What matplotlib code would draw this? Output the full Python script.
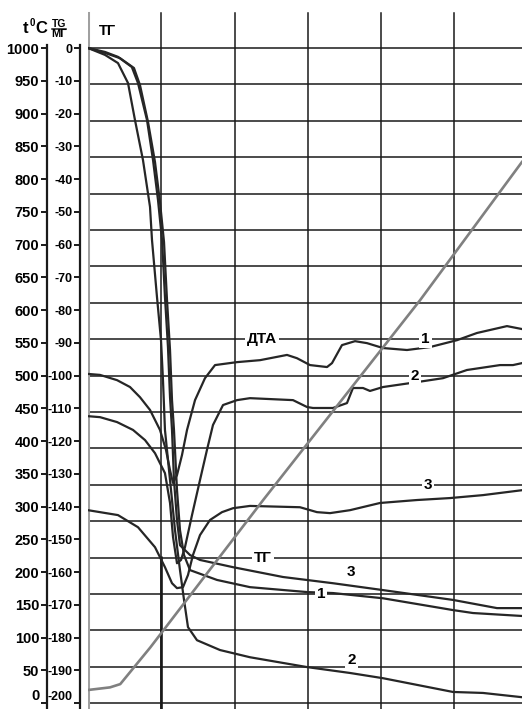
import numpy as np
import matplotlib.pyplot as plt

plt.rcParams['font.family'] = ['Liberation Sans', 'DejaVu Sans']
plt.rcParams['axes.unicode_minus'] = False

# Время, мин (по 10 на клетку)
# ТГ, мг
tg1_x = [0, 2.32, 4.37, 6.27, 7.09, 8.19, 9.14, 9.82, 10.37, 10.78, 11.19, 11.46, 11.73, 12.14,
         12.55, 13.10, 13.92, 17.60, 22.10, 29.88, 33.42, 40.25, 49.80, 52.52, 59.21]
tg1_y = [0, -1.5, -3.1, -6.1, -11.3, -22.6, -34.8, -47.0, -59.2, -77.0, -92.2, -107.5, -116.6, -134.9,
         -147.2, -154.8, -159.4, -162.4, -164.6, -166.1, -166.4, -168.0, -171.6, -172.5, -173.4]

tg2_x = [0, 2.32, 4.09, 5.46, 6.41, 7.50, 8.46, 8.73, 9.41, 9.96, 10.23, 10.50, 11.19, 11.87, 12.55,
         13.10, 13.64, 14.87, 18.01, 22.10, 29.88, 35.74, 40.25, 49.80, 53.89, 59.21]
tg2_y = [0, -2.1, -4.6, -10.7, -22.0, -34.2, -48.5, -58.6, -76.0, -89.2, -101.4, -116.6, -131.9, -147.2,
         -159.4, -168.5, -176.8, -180.8, -183.8, -186.0, -189.0, -190.8, -192.4, -196.6, -196.9, -198.2]

tg3_x = [0, 2.32, 4.09, 5.98, 6.82, 8.05, 8.87, 9.55, 10.10, 10.50, 10.91, 11.19, 11.46, 11.73, 12.14,
         12.55, 13.92, 15.29, 19.78, 26.60, 33.42, 40.25, 49.80, 55.80, 59.21]
tg3_y = [0, -1.2, -2.7, -5.8, -10.7, -22.0, -34.2, -46.4, -58.6, -76.0, -91.3, -106.6, -116.6, -131.9,
         -144.1, -151.8, -154.8, -156.3, -158.5, -161.5, -163.4, -165.5, -168.5, -171.0, -171.0]

# ДТА, усл. ед.
dta1_x = [0, 1.64, 3.96, 5.73, 7.09, 8.46, 9.82, 10.64, 11.19, 11.60, 12.14, 12.82, 13.51, 14.60, 15.96,
          17.33, 20.33, 23.47, 27.15, 28.51, 30.29, 32.61, 33.29, 34.65, 36.43, 38.06, 40.25, 43.52,
          46.66, 50.34, 53.07, 57.16, 59.21]
dta1_y = [-99.5, -99.8, -101.4, -103.5, -106.6, -110.5, -116.6, -122.7, -128.9, -132.8, -130.4, -124.3,
          -116.6, -107.5, -100.8, -96.8, -95.9, -95.3, -93.7, -94.7, -96.8, -97.4, -96.2, -90.7, -89.5,
          -90.1, -91.6, -92.2, -91.3, -89.2, -87.0, -84.9, -85.8]

dta2_x = [0, 1.64, 3.96, 6.14, 7.78, 9.14, 10.50, 11.19, 11.60, 12.14, 12.69, 13.23, 14.19, 15.28, 16.23,
          17.05, 18.42, 20.33, 22.10, 27.97, 29.88, 30.70, 33.42, 35.33, 36.15, 37.52, 38.47, 40.25,
          44.88, 48.43, 51.70, 56.21, 57.98, 59.21]
dta2_y = [-112.4, -112.7, -114.2, -116.6, -119.7, -123.7, -129.8, -138.9, -149.3, -157.3, -156.3, -152.4,
          -142.6, -131.9, -122.7, -115.1, -109.0, -107.5, -106.9, -107.5, -109.6, -109.9, -109.9, -108.4,
          -103.8, -103.8, -104.7, -103.5, -102.0, -100.8, -98.3, -96.8, -96.8, -96.2]

dta3_x = [0, 4.09, 6.82, 9.14, 10.50, 11.46, 12.14, 12.96, 13.64, 14.32, 15.28, 16.64, 18.28, 19.78,
          22.10, 28.92, 31.24, 33.02, 35.74, 39.84, 44.88, 49.39, 53.89, 59.21]
dta3_y = [-141.1, -142.6, -146.3, -152.4, -158.5, -163.4, -164.9, -164.6, -160.9, -154.8, -148.7, -144.1,
          -141.7, -140.5, -139.8, -140.2, -141.7, -142.0, -141.1, -138.9, -138.0, -137.4, -136.5, -135.0]

# Температура, °C
temp_x = [0, 3.0, 4.4, 8.5, 23.9, 45.3, 59.2]
temp_c = [20, 24, 29, 85, 310, 615, 826]

tg_ticks = list(range(0, -201, -10))
t_ticks = list(range(0, 1001, 50))

W, H = 522, 709
tg_lim = (-201.8, 14.66)
t_lim = (1000 + 5 * tg_lim[0], 1000 + 5 * tg_lim[1])
grid_top = (H - 13) / H

fig = plt.figure(figsize=(W / 100, H / 100), dpi=100)
ax = fig.add_axes([88 / W, 0, (W - 88) / W, 1])
ax.set_xlim(0, 59.21)
ax.set_ylim(*tg_lim)
for s in ax.spines.values():
    s.set_visible(False)
ax.set_xticks([])
ax.set_yticks([])

# сетка
for k in range(19):
    ax.axhline(-k * 200 / 18, color='#1a1a1a', lw=1.1, zorder=1)
for v in [10, 20, 30, 40, 50]:
    ax.axvline(v, ymax=grid_top, color='#1a1a1a', lw=1.1, zorder=1)
ax.vlines(10, tg_lim[0], -155, color='#1a1a1a', lw=1.9, zorder=1)
ax.axvline(0, ymax=grid_top, color='#a0a0a0', lw=2.2, zorder=1)

line_kw = dict(color='#262626', lw=1.6, zorder=3)
for xs, ys in [(tg1_x, tg1_y), (tg2_x, tg2_y), (tg3_x, tg3_y),
               (dta1_x, dta1_y), (dta2_x, dta2_y), (dta3_x, dta3_y)]:
    ax.plot(xs, ys, **line_kw)

ax_t = ax.twinx()
ax_t.set_ylim(*t_lim)
ax_t.axis('off')
ax_t.plot(temp_x, temp_c, color='#808080', lw=1.9, zorder=4)

# подписи кривых
box = dict(facecolor='white', edgecolor='none', pad=1.5)
lbl_kw = dict(fontsize=11, fontweight='bold', ha='center', va='center', bbox=box, zorder=6)
ax.text(23.7, -88.89, 'ДТА', **lbl_kw)
ax.text(46.0, -88.89, '1', **lbl_kw)
ax.text(44.6, -100.0, '2', **lbl_kw)
ax.text(46.4, -133.33, '3', **lbl_kw)
ax.text(23.9, -155.56, 'ТГ', **lbl_kw)
ax.text(35.9, -160.0, '3', **lbl_kw)
ax.text(31.8, -166.67, '1', **lbl_kw)
ax.text(36.0, -186.7, '2', **lbl_kw)
ax.text(2.7, 5.2, 'ТГ', fontsize=10.5, fontweight='bold', ha='center', va='center')


def side_axis(xpix, lim, ticks, fs):
    a = fig.add_axes([xpix / W, 0, 0.0005, 1])
    a.set_ylim(*lim)
    a.set_xticks([])
    for name in ['top', 'right', 'bottom']:
        a.spines[name].set_visible(False)
    sp = a.spines['left']
    sp.set_linestyle((0, (1, 1)))
    sp.set_linewidth(1.6)
    sp.set_color('#1a1a1a')
    a.set_yticks(ticks)
    a.set_yticklabels([str(t) for t in ticks], fontsize=fs, fontweight='bold')
    a.tick_params(axis='y', direction='out', length=4, width=1.4, pad=1.5, color='#1a1a1a')
    a.patch.set_visible(False)
    return a


ax_tg = side_axis(80, tg_lim, tg_ticks, 9)
ax_tg.spines['left'].set_bounds(tg_lim[0], 0.8)
ax_tc = side_axis(47, t_lim, t_ticks, 10.5)
ax_tc.spines['left'].set_bounds(t_lim[0], 1004)
# нижние подписи приподняты, чтобы не обрезались краем
for a in (ax_tg, ax_tc):
    a.get_yticklabels()[-1 if a is ax_tg else 0].set_va('bottom')

# заголовки шкал
fig.text(23 / W, 1 - 33 / H, 't', fontsize=12, fontweight='bold', va='baseline')
fig.text(29.5 / W, 1 - 26 / H, '0', fontsize=7, fontweight='bold', va='baseline')
fig.text(35 / W, 1 - 33 / H, 'C', fontsize=12, fontweight='bold', va='baseline')
fig.text(59 / W, 1 - 27 / H, 'TG', fontsize=7.5, fontweight='bold', ha='center', va='baseline')
fig.add_artist(plt.Line2D([52 / W, 66 / W], [1 - 29 / H, 1 - 29 / H], color='#1a1a1a', lw=1.1))
fig.text(59 / W, 1 - 37 / H, 'МГ', fontsize=8, fontweight='bold', ha='center', va='baseline')

fig.savefig('out.png', dpi=100, facecolor='white')
